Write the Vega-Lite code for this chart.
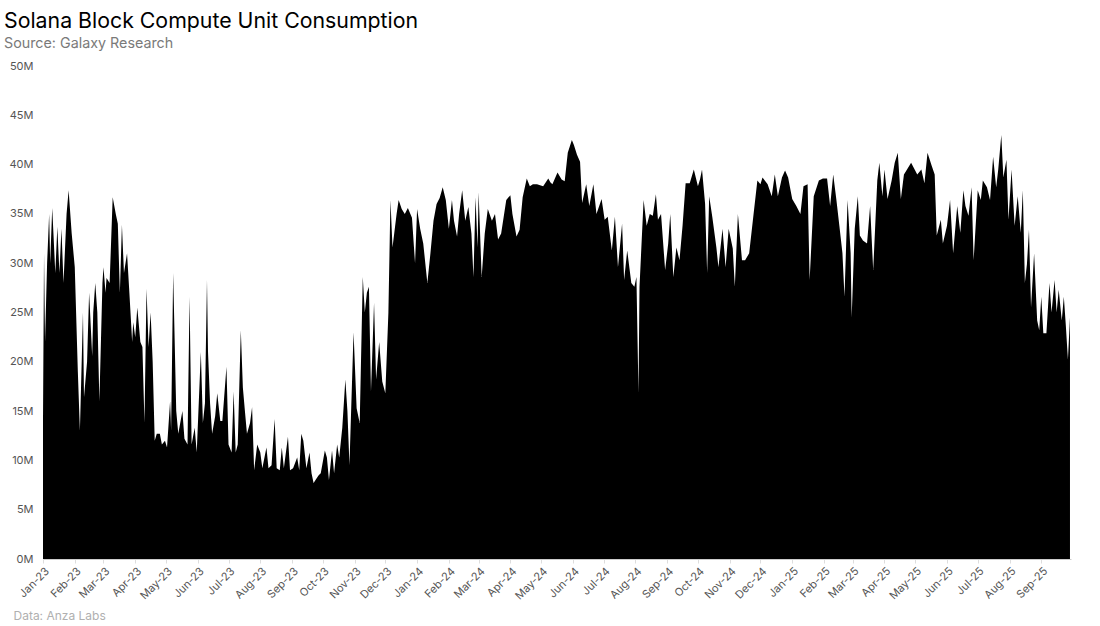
{
  "$schema": "https://vega.github.io/schema/vega-lite/v6.json",
  "width": 1028,
  "height": 493,
  "autosize": {"type": "none"},
  "padding": {"left": 43, "top": 66, "right": 29, "bottom": 67},
  "background": "white",
  "config": {
    "font": "Inter",
    "view": {"stroke": null},
    "title": {"font": "Inter", "subtitleFont": "Inter"}
  },
  "title": {
    "text": "Solana Block Compute Unit Consumption",
    "subtitle": "Source: Galaxy Research",
    "anchor": "start",
    "frame": "bounds",
    "dx": -5,
    "fontSize": 21.3,
    "fontWeight": 400,
    "color": "#000000",
    "subtitleFontSize": 14.3,
    "subtitleColor": "#7a7a7a",
    "subtitlePadding": 4,
    "offset": 9
  },
  "data": {
    "values": [
      {"d": "2023-01-01", "v": 14}, {"d": "2023-01-02", "v": 31}, {"d": "2023-01-03", "v": 22}, {"d": "2023-01-05", "v": 30},
      {"d": "2023-01-07", "v": 35}, {"d": "2023-01-08", "v": 30}, {"d": "2023-01-10", "v": 35.6}, {"d": "2023-01-13", "v": 29},
      {"d": "2023-01-15", "v": 33.7}, {"d": "2023-01-17", "v": 29}, {"d": "2023-01-19", "v": 33.5}, {"d": "2023-01-21", "v": 28},
      {"d": "2023-01-24", "v": 35}, {"d": "2023-01-26", "v": 37.4}, {"d": "2023-01-29", "v": 33}, {"d": "2023-02-01", "v": 29.6},
      {"d": "2023-02-04", "v": 19}, {"d": "2023-02-06", "v": 13}, {"d": "2023-02-09", "v": 25}, {"d": "2023-02-10", "v": 16.4},
      {"d": "2023-02-13", "v": 20}, {"d": "2023-02-15", "v": 27}, {"d": "2023-02-18", "v": 20.6}, {"d": "2023-02-19", "v": 25},
      {"d": "2023-02-21", "v": 28}, {"d": "2023-02-23", "v": 25}, {"d": "2023-02-25", "v": 16}, {"d": "2023-02-28", "v": 28},
      {"d": "2023-03-01", "v": 29.6}, {"d": "2023-03-03", "v": 27}, {"d": "2023-03-04", "v": 28.5}, {"d": "2023-03-07", "v": 28},
      {"d": "2023-03-10", "v": 36.7}, {"d": "2023-03-13", "v": 35}, {"d": "2023-03-15", "v": 34}, {"d": "2023-03-17", "v": 27},
      {"d": "2023-03-19", "v": 33.9}, {"d": "2023-03-21", "v": 29}, {"d": "2023-03-24", "v": 31}, {"d": "2023-03-26", "v": 27.5},
      {"d": "2023-03-29", "v": 22}, {"d": "2023-03-30", "v": 24}, {"d": "2023-04-01", "v": 22.5}, {"d": "2023-04-03", "v": 25.5},
      {"d": "2023-04-06", "v": 22}, {"d": "2023-04-08", "v": 21.5}, {"d": "2023-04-10", "v": 13.8}, {"d": "2023-04-12", "v": 27.4},
      {"d": "2023-04-14", "v": 21.5}, {"d": "2023-04-16", "v": 25}, {"d": "2023-04-18", "v": 20}, {"d": "2023-04-20", "v": 12},
      {"d": "2023-04-22", "v": 12.7}, {"d": "2023-04-25", "v": 12.7}, {"d": "2023-04-27", "v": 11.6}, {"d": "2023-04-30", "v": 12},
      {"d": "2023-05-02", "v": 11.3}, {"d": "2023-05-05", "v": 16}, {"d": "2023-05-06", "v": 13}, {"d": "2023-05-08", "v": 29},
      {"d": "2023-05-11", "v": 15}, {"d": "2023-05-13", "v": 12.7}, {"d": "2023-05-17", "v": 15}, {"d": "2023-05-19", "v": 12.2},
      {"d": "2023-05-22", "v": 11.6}, {"d": "2023-05-24", "v": 26.6}, {"d": "2023-05-26", "v": 11.6}, {"d": "2023-05-29", "v": 13.3},
      {"d": "2023-05-31", "v": 10.8}, {"d": "2023-06-04", "v": 21}, {"d": "2023-06-06", "v": 13.8}, {"d": "2023-06-08", "v": 15.8},
      {"d": "2023-06-10", "v": 28.3}, {"d": "2023-06-11", "v": 21}, {"d": "2023-06-13", "v": 15.8}, {"d": "2023-06-15", "v": 12.7},
      {"d": "2023-06-18", "v": 14.5}, {"d": "2023-06-20", "v": 16.8}, {"d": "2023-06-23", "v": 14}, {"d": "2023-06-25", "v": 14},
      {"d": "2023-06-29", "v": 19.5}, {"d": "2023-07-01", "v": 11.6}, {"d": "2023-07-04", "v": 10.8}, {"d": "2023-07-06", "v": 17},
      {"d": "2023-07-08", "v": 10.8}, {"d": "2023-07-10", "v": 11.6}, {"d": "2023-07-13", "v": 23.2}, {"d": "2023-07-15", "v": 17.4},
      {"d": "2023-07-17", "v": 15}, {"d": "2023-07-19", "v": 12.7}, {"d": "2023-07-22", "v": 13.8}, {"d": "2023-07-24", "v": 15.4},
      {"d": "2023-07-26", "v": 9}, {"d": "2023-07-29", "v": 11.6}, {"d": "2023-08-01", "v": 10.8}, {"d": "2023-08-03", "v": 9.2},
      {"d": "2023-08-07", "v": 11.3}, {"d": "2023-08-09", "v": 9.2}, {"d": "2023-08-12", "v": 9.5}, {"d": "2023-08-15", "v": 14.2},
      {"d": "2023-08-17", "v": 9.2}, {"d": "2023-08-20", "v": 9}, {"d": "2023-08-22", "v": 11.3}, {"d": "2023-08-24", "v": 9.2},
      {"d": "2023-08-28", "v": 12.4}, {"d": "2023-08-30", "v": 9}, {"d": "2023-09-02", "v": 9.2}, {"d": "2023-09-06", "v": 10.3},
      {"d": "2023-09-08", "v": 9}, {"d": "2023-09-10", "v": 12.7}, {"d": "2023-09-12", "v": 12}, {"d": "2023-09-15", "v": 9.2},
      {"d": "2023-09-18", "v": 10.8}, {"d": "2023-09-20", "v": 8.7}, {"d": "2023-09-22", "v": 7.7}, {"d": "2023-09-25", "v": 8.2},
      {"d": "2023-09-27", "v": 8.5}, {"d": "2023-09-29", "v": 8.7}, {"d": "2023-10-03", "v": 11}, {"d": "2023-10-05", "v": 10.3},
      {"d": "2023-10-07", "v": 8}, {"d": "2023-10-10", "v": 11}, {"d": "2023-10-12", "v": 8.7}, {"d": "2023-10-15", "v": 11.6},
      {"d": "2023-10-17", "v": 10.3}, {"d": "2023-10-20", "v": 13.3}, {"d": "2023-10-23", "v": 18.2}, {"d": "2023-10-25", "v": 15},
      {"d": "2023-10-27", "v": 9.5}, {"d": "2023-10-31", "v": 23}, {"d": "2023-11-03", "v": 15.3}, {"d": "2023-11-06", "v": 13.8},
      {"d": "2023-11-09", "v": 28.6}, {"d": "2023-11-11", "v": 25}, {"d": "2023-11-13", "v": 27}, {"d": "2023-11-15", "v": 27.6},
      {"d": "2023-11-17", "v": 17}, {"d": "2023-11-20", "v": 26}, {"d": "2023-11-22", "v": 18.2}, {"d": "2023-11-25", "v": 22},
      {"d": "2023-11-28", "v": 18}, {"d": "2023-12-01", "v": 16.8}, {"d": "2023-12-04", "v": 25}, {"d": "2023-12-06", "v": 36.4},
      {"d": "2023-12-08", "v": 31.6}, {"d": "2023-12-12", "v": 35}, {"d": "2023-12-14", "v": 36.4}, {"d": "2023-12-17", "v": 35.5},
      {"d": "2023-12-20", "v": 35}, {"d": "2023-12-23", "v": 35.6}, {"d": "2023-12-27", "v": 34.6}, {"d": "2023-12-30", "v": 30},
      {"d": "2024-01-01", "v": 35.5}, {"d": "2024-01-04", "v": 33.5}, {"d": "2024-01-07", "v": 32}, {"d": "2024-01-11", "v": 28},
      {"d": "2024-01-14", "v": 31}, {"d": "2024-01-17", "v": 34.3}, {"d": "2024-01-20", "v": 36}, {"d": "2024-01-23", "v": 36.6},
      {"d": "2024-01-26", "v": 37.7}, {"d": "2024-01-29", "v": 36.4}, {"d": "2024-02-01", "v": 33.5}, {"d": "2024-02-04", "v": 36.4},
      {"d": "2024-02-06", "v": 34.3}, {"d": "2024-02-09", "v": 32.7}, {"d": "2024-02-11", "v": 35}, {"d": "2024-02-14", "v": 37.4},
      {"d": "2024-02-17", "v": 34.3}, {"d": "2024-02-20", "v": 35.7}, {"d": "2024-02-23", "v": 33}, {"d": "2024-02-25", "v": 28.6},
      {"d": "2024-02-27", "v": 36.7}, {"d": "2024-02-29", "v": 31.6}, {"d": "2024-03-01", "v": 37.2}, {"d": "2024-03-04", "v": 28.6},
      {"d": "2024-03-07", "v": 33}, {"d": "2024-03-10", "v": 35.5}, {"d": "2024-03-14", "v": 34.3}, {"d": "2024-03-17", "v": 35},
      {"d": "2024-03-20", "v": 32.4}, {"d": "2024-03-23", "v": 33}, {"d": "2024-03-28", "v": 36.4}, {"d": "2024-04-01", "v": 36.9},
      {"d": "2024-04-03", "v": 35}, {"d": "2024-04-07", "v": 32.7}, {"d": "2024-04-10", "v": 33.4}, {"d": "2024-04-13", "v": 36.7},
      {"d": "2024-04-17", "v": 38.6}, {"d": "2024-04-20", "v": 37.8}, {"d": "2024-04-23", "v": 38}, {"d": "2024-04-27", "v": 38},
      {"d": "2024-05-03", "v": 37.8}, {"d": "2024-05-08", "v": 38.6}, {"d": "2024-05-10", "v": 38.2}, {"d": "2024-05-12", "v": 38},
      {"d": "2024-05-17", "v": 39.2}, {"d": "2024-05-21", "v": 38.5}, {"d": "2024-05-24", "v": 38.3}, {"d": "2024-05-27", "v": 41.2},
      {"d": "2024-05-31", "v": 42.5}, {"d": "2024-06-02", "v": 42}, {"d": "2024-06-05", "v": 41}, {"d": "2024-06-08", "v": 40.3},
      {"d": "2024-06-10", "v": 36.1}, {"d": "2024-06-14", "v": 38}, {"d": "2024-06-17", "v": 35.8}, {"d": "2024-06-21", "v": 38},
      {"d": "2024-06-24", "v": 35}, {"d": "2024-06-29", "v": 36.5}, {"d": "2024-07-02", "v": 34.4}, {"d": "2024-07-05", "v": 34.7},
      {"d": "2024-07-09", "v": 31.3}, {"d": "2024-07-12", "v": 34.7}, {"d": "2024-07-15", "v": 29.6}, {"d": "2024-07-19", "v": 34},
      {"d": "2024-07-21", "v": 28.3}, {"d": "2024-07-24", "v": 31.3}, {"d": "2024-07-28", "v": 28}, {"d": "2024-07-31", "v": 27.6},
      {"d": "2024-08-02", "v": 28.6}, {"d": "2024-08-04", "v": 16.8}, {"d": "2024-08-05", "v": 27.6}, {"d": "2024-08-09", "v": 36.4},
      {"d": "2024-08-12", "v": 33.8}, {"d": "2024-08-15", "v": 35}, {"d": "2024-08-18", "v": 34.8}, {"d": "2024-08-21", "v": 37},
      {"d": "2024-08-23", "v": 34.4}, {"d": "2024-08-26", "v": 35}, {"d": "2024-08-30", "v": 29.3}, {"d": "2024-09-02", "v": 32},
      {"d": "2024-09-04", "v": 35}, {"d": "2024-09-07", "v": 28.6}, {"d": "2024-09-10", "v": 31.6}, {"d": "2024-09-13", "v": 30.3},
      {"d": "2024-09-16", "v": 33.8}, {"d": "2024-09-19", "v": 38.1}, {"d": "2024-09-23", "v": 38.1}, {"d": "2024-09-27", "v": 39.5},
      {"d": "2024-10-01", "v": 37.8}, {"d": "2024-10-03", "v": 38.5}, {"d": "2024-10-05", "v": 39.5}, {"d": "2024-10-08", "v": 36},
      {"d": "2024-10-10", "v": 29}, {"d": "2024-10-12", "v": 36.8}, {"d": "2024-10-15", "v": 34.7}, {"d": "2024-10-19", "v": 31.6},
      {"d": "2024-10-21", "v": 29.6}, {"d": "2024-10-25", "v": 33.5}, {"d": "2024-10-28", "v": 29.6}, {"d": "2024-10-31", "v": 33.5},
      {"d": "2024-11-04", "v": 31.5}, {"d": "2024-11-06", "v": 27.6}, {"d": "2024-11-09", "v": 35}, {"d": "2024-11-13", "v": 30.3},
      {"d": "2024-11-16", "v": 30.3}, {"d": "2024-11-20", "v": 31}, {"d": "2024-11-24", "v": 34.7}, {"d": "2024-11-28", "v": 38.4},
      {"d": "2024-12-01", "v": 38}, {"d": "2024-12-03", "v": 38.7}, {"d": "2024-12-08", "v": 38}, {"d": "2024-12-12", "v": 36.8},
      {"d": "2024-12-15", "v": 39}, {"d": "2024-12-18", "v": 36.8}, {"d": "2024-12-22", "v": 38.7}, {"d": "2024-12-25", "v": 39.4},
      {"d": "2024-12-28", "v": 38.7}, {"d": "2025-01-01", "v": 36.5}, {"d": "2025-01-05", "v": 35.8}, {"d": "2025-01-09", "v": 35},
      {"d": "2025-01-12", "v": 37.8}, {"d": "2025-01-16", "v": 38}, {"d": "2025-01-18", "v": 28.3}, {"d": "2025-01-22", "v": 36.8},
      {"d": "2025-01-27", "v": 38.4}, {"d": "2025-01-31", "v": 38.6}, {"d": "2025-02-04", "v": 38.6}, {"d": "2025-02-07", "v": 35.8},
      {"d": "2025-02-10", "v": 39}, {"d": "2025-02-13", "v": 36.5}, {"d": "2025-02-16", "v": 33.8}, {"d": "2025-02-19", "v": 31},
      {"d": "2025-02-21", "v": 26.6}, {"d": "2025-02-24", "v": 36.4}, {"d": "2025-02-27", "v": 31}, {"d": "2025-02-28", "v": 24.5},
      {"d": "2025-03-03", "v": 33.5}, {"d": "2025-03-06", "v": 36.8}, {"d": "2025-03-08", "v": 32.8}, {"d": "2025-03-11", "v": 32.3},
      {"d": "2025-03-15", "v": 32}, {"d": "2025-03-18", "v": 35.8}, {"d": "2025-03-21", "v": 29.3}, {"d": "2025-03-25", "v": 38.4},
      {"d": "2025-03-27", "v": 40.2}, {"d": "2025-03-30", "v": 36.8}, {"d": "2025-04-01", "v": 39.5}, {"d": "2025-04-04", "v": 36.5},
      {"d": "2025-04-08", "v": 38.4}, {"d": "2025-04-11", "v": 40.2}, {"d": "2025-04-14", "v": 41.2}, {"d": "2025-04-17", "v": 36.5},
      {"d": "2025-04-20", "v": 39}, {"d": "2025-04-23", "v": 39.5}, {"d": "2025-04-27", "v": 40.2}, {"d": "2025-05-03", "v": 39},
      {"d": "2025-05-07", "v": 39.5}, {"d": "2025-05-10", "v": 38.1}, {"d": "2025-05-13", "v": 41.2}, {"d": "2025-05-17", "v": 39.9},
      {"d": "2025-05-20", "v": 39}, {"d": "2025-05-22", "v": 32.8}, {"d": "2025-05-26", "v": 34.4}, {"d": "2025-05-28", "v": 32},
      {"d": "2025-06-01", "v": 33.8}, {"d": "2025-06-04", "v": 36.4}, {"d": "2025-06-07", "v": 31}, {"d": "2025-06-11", "v": 35.8},
      {"d": "2025-06-14", "v": 33.1}, {"d": "2025-06-17", "v": 37.4}, {"d": "2025-06-19", "v": 35.8}, {"d": "2025-06-22", "v": 34.8},
      {"d": "2025-06-25", "v": 37.7}, {"d": "2025-06-27", "v": 30.3}, {"d": "2025-07-01", "v": 37.4}, {"d": "2025-07-04", "v": 36.4},
      {"d": "2025-07-06", "v": 38.4}, {"d": "2025-07-10", "v": 37.7}, {"d": "2025-07-13", "v": 36.4}, {"d": "2025-07-16", "v": 40.8},
      {"d": "2025-07-19", "v": 37.7}, {"d": "2025-07-21", "v": 39.5}, {"d": "2025-07-24", "v": 43}, {"d": "2025-07-26", "v": 38.7},
      {"d": "2025-07-29", "v": 40.5}, {"d": "2025-07-31", "v": 34.4}, {"d": "2025-08-03", "v": 39.5}, {"d": "2025-08-06", "v": 33.8},
      {"d": "2025-08-09", "v": 36.8}, {"d": "2025-08-12", "v": 33.1}, {"d": "2025-08-14", "v": 37.4}, {"d": "2025-08-16", "v": 28},
      {"d": "2025-08-18", "v": 29.9}, {"d": "2025-08-20", "v": 33.4}, {"d": "2025-08-22", "v": 25.5}, {"d": "2025-08-25", "v": 31},
      {"d": "2025-08-28", "v": 24.2}, {"d": "2025-08-30", "v": 23.2}, {"d": "2025-09-01", "v": 26.6}, {"d": "2025-09-03", "v": 22.9},
      {"d": "2025-09-06", "v": 22.9}, {"d": "2025-09-09", "v": 28}, {"d": "2025-09-11", "v": 25}, {"d": "2025-09-14", "v": 28.3},
      {"d": "2025-09-16", "v": 25}, {"d": "2025-09-18", "v": 27.3}, {"d": "2025-09-21", "v": 24.2}, {"d": "2025-09-23", "v": 26.6},
      {"d": "2025-09-25", "v": 23.6}, {"d": "2025-09-27", "v": 20.2}, {"d": "2025-09-29", "v": 24.5}
    ]
  },
  "mark": {"type": "area", "color": "#000000", "interpolate": "linear", "opacity": 1},
  "encoding": {
    "x": {
      "field": "d",
      "type": "temporal",
      "scale": {
        "type": "utc",
        "domain": [
          {"year": 2023, "month": 1, "date": 1, "utc": true},
          {"year": 2025, "month": 9, "date": 30, "utc": true}
        ],
        "nice": false
      },
      "axis": {
        "title": "Data: Anza Labs",
        "titleFont": "Inter",
        "titleFontSize": 12,
        "titleFontWeight": 400,
        "titleColor": "#b0b0b0",
        "titleAnchor": "start",
        "titleAlign": "left",
        "titleBaseline": "alphabetic",
        "titleX": -30,
        "titleY": 60,
        "format": "%b-%y",
        "tickCount": {"interval": "month", "step": 1},
        "labelAngle": -45,
        "labelAlign": "right",
        "labelBaseline": "top",
        "labelFontSize": 11,
        "labelColor": "#555555",
        "labelPadding": 2,
        "labelOverlap": false,
        "labelFlush": false,
        "domainColor": "#cccccc",
        "tickColor": "#dddddd",
        "tickSize": 4,
        "grid": false
      }
    },
    "y": {
      "field": "v",
      "type": "quantitative",
      "scale": {"domain": [0, 50], "nice": false},
      "axis": {
        "title": null,
        "values": [0, 5, 10, 15, 20, 25, 30, 35, 40, 45, 50],
        "labelExpr": "datum.value + 'M'",
        "labelFontSize": 11,
        "labelColor": "#555555",
        "labelPadding": 10,
        "ticks": false,
        "domain": false,
        "grid": false
      }
    }
  }
}
